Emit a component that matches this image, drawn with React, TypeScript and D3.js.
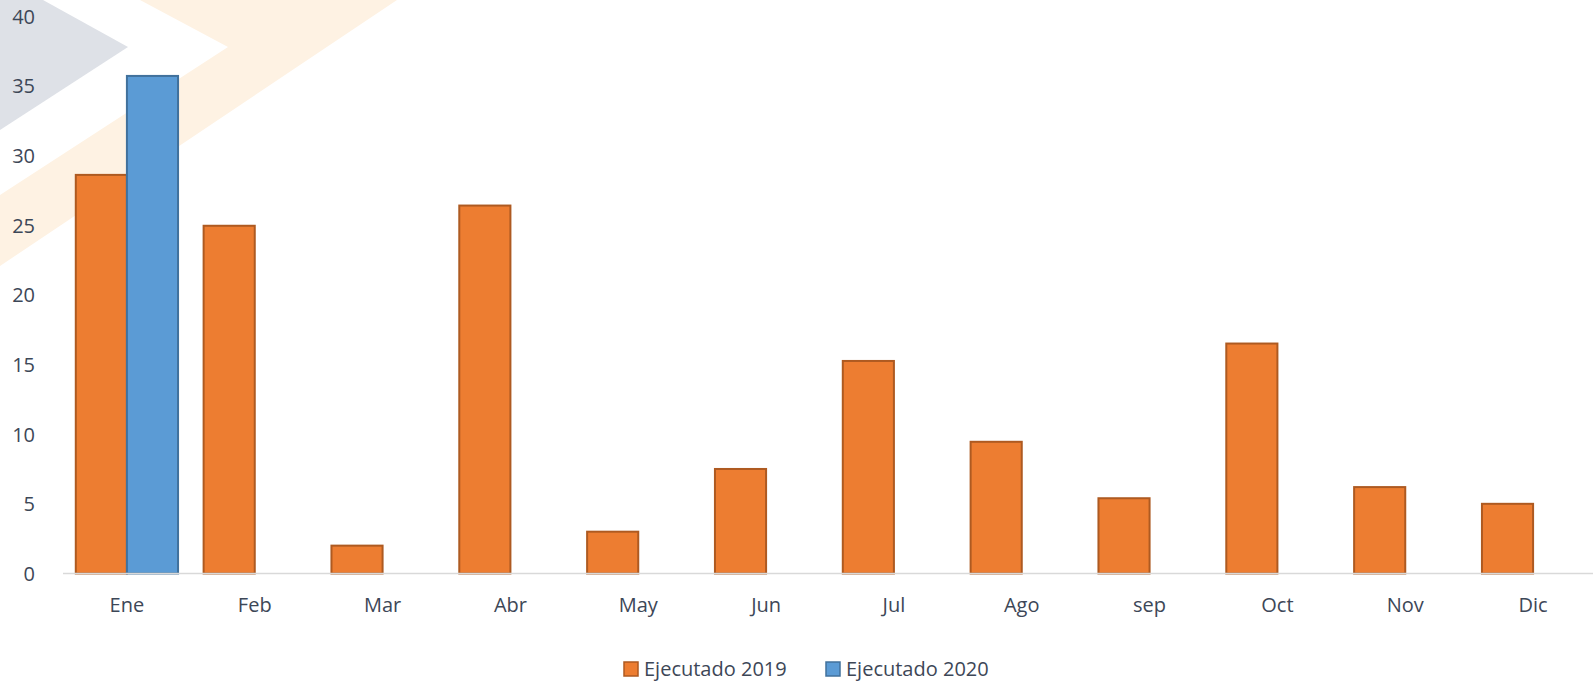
import React from "react";
import * as d3 from "d3";

const months = ["Ene", "Feb", "Mar", "Abr", "May", "Jun", "Jul", "Ago", "sep", "Oct", "Nov", "Dic"];
const ejecutado2019 = [28.6, 24.95, 2.0, 26.4, 3.0, 7.5, 15.25, 9.45, 5.4, 16.5, 6.2, 5.0];
const ejecutado2020: (number | null)[] = [35.7, null, null, null, null, null, null, null, null, null, null, null];
const yTicks = [0, 5, 10, 15, 20, 25, 30, 35, 40];
const seriesNames = ["Ejecutado 2019", "Ejecutado 2020"];

const W = 1593;
const H = 682;
const FONT = "'Open Sans', 'Noto Sans', sans-serif";
const TEXT = "#3d4757";
const colors = [
  { fill: "#ed7d31", stroke: "#ae5a21" },
  { fill: "#5b9bd5", stroke: "#41719c" },
];

export default function App() {
  const x = d3.scaleBand<string>().domain(months).range([63, 1597]).paddingInner(0).paddingOuter(0);
  const y = d3.scaleLinear().domain([0, 40]).range([573.5, 16]);
  const step = x.step();
  const bw = step / 2.5;
  const sub = d3.scaleBand<number>().domain([0, 1]).range([0, 2 * bw]);

  const series = [ejecutado2019, ejecutado2020];

  return (
    <svg
      width={W}
      height={H}
      style={{ position: "absolute", left: 0, top: 0, display: "block", background: "#fff" }}
    >
      {/* watermark shapes */}
      <polygon points="0,0 43,0 128,47 0,130" fill="#dee1e7" />
      <polygon points="140,0 397,0 0,266 0,195 228,47" fill="#fef2e3" />

      {/* y tick labels */}
      {yTicks.map((t) => (
        <text
          key={t}
          x={35}
          y={y(t)}
          textAnchor="end"
          dominantBaseline="central"
          fontFamily={FONT}
          fontSize={20}
          fill={TEXT}
        >
          {t}
        </text>
      ))}

      {/* bars */}
      {months.map((m, i) => {
        const center = (x(m) as number) + step / 2;
        const start = center - bw;
        return (
          <g key={m}>
            {series.map((s, si) => {
              const v = s[i];
              if (v == null) return null;
              const bx = start + (sub(si) as number);
              return (
                <rect
                  key={si}
                  x={bx}
                  y={y(v)}
                  width={bw}
                  height={y(0) - y(v)}
                  fill={colors[si].fill}
                  stroke={colors[si].stroke}
                  strokeWidth={2}
                />
              );
            })}
          </g>
        );
      })}

      {/* x axis line */}
      <line x1={63} x2={1597} y1={y(0)} y2={y(0)} stroke="#d9d9d9" strokeWidth={1.5} />

      {/* x labels */}
      {months.map((m) => (
        <text
          key={m}
          x={(x(m) as number) + step / 2}
          y={612}
          textAnchor="middle"
          fontFamily={FONT}
          fontSize={20}
          fill={TEXT}
        >
          {m}
        </text>
      ))}

      {/* legend */}
      {seriesNames.map((n, i) => {
        const lx = [623, 825][i];
        return (
          <g key={n}>
            <rect x={lx + 1} y={662} width={14} height={14} fill={colors[i].fill} stroke={colors[i].stroke} strokeWidth={1.5} />
            <text x={lx + 21} y={676} fontFamily={FONT} fontSize={20} fill={TEXT}>
              {n}
            </text>
          </g>
        );
      })}
    </svg>
  );
}
